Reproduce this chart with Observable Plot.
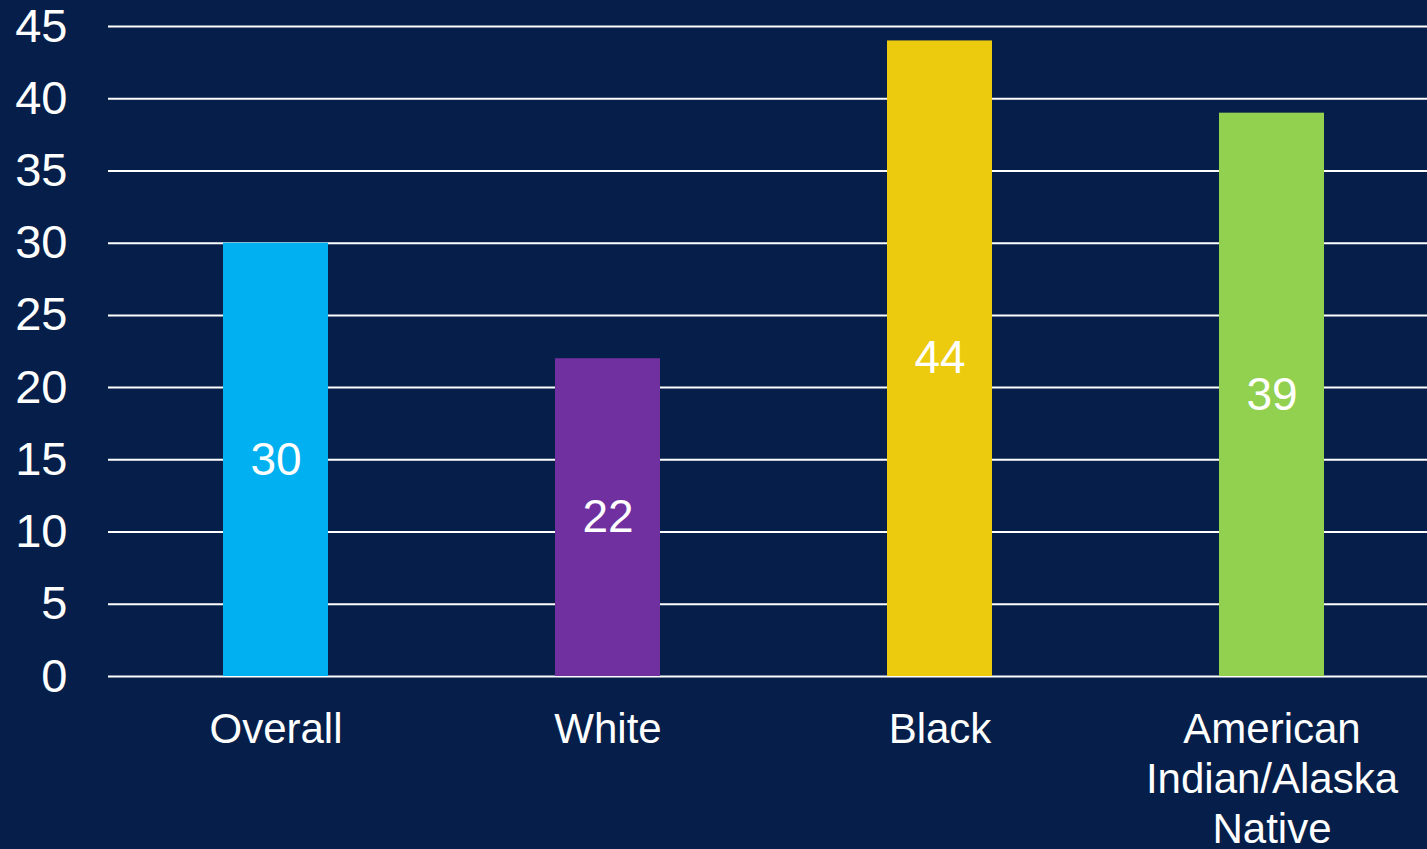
<!DOCTYPE html>
<html>
<head>
<meta charset="utf-8">
<script src="https://cdn.jsdelivr.net/npm/d3@7"></script>
<script src="https://cdn.jsdelivr.net/npm/@observablehq/plot@0.6"></script>
<style>
  html, body { margin: 0; padding: 0; background: #051f4a; overflow: hidden; }
  #chart svg { display: block; }
</style>
</head>
<body>
<div id="chart"></div>
<script>
const categories = ["Overall", "White", "Black", "American\nIndian/Alaska\nNative"];
const values = [30, 22, 44, 39];
const colors = ["#00b0f0", "#7030a0", "#eccb0e", "#92d050"];
const yTicks = [0, 5, 10, 15, 20, 25, 30, 35, 40, 45];

const data = categories.map((c, i) => ({category: c, value: values[i], color: colors[i]}));

const chart = Plot.plot({
  width: 1427,
  height: 849,
  marginLeft: 108,
  marginRight: -12,
  marginTop: 26,
  marginBottom: 173,
  style: {background: "#051f4a", color: "white", fontFamily: "'Liberation Sans', Arial, sans-serif"},
  x: {domain: categories, paddingInner: 0.685, paddingOuter: 0.3425, label: null},
  y: {domain: [0, 45], label: null},
  marks: [
    Plot.ruleY(yTicks, {stroke: "white", strokeWidth: 2}),
    Plot.barY(data, {x: "category", y: "value", fill: "color"}),
    Plot.text(data, {x: "category", y: d => d.value / 2, text: d => String(d.value), fill: "white", fontSize: 46}),
    Plot.axisY(yTicks, {tickSize: 0, tickPadding: 41, fontSize: 47, fill: "white", label: null}),
    Plot.axisX({tickSize: 0, tickPadding: 31, fontSize: 42, lineHeight: 1.19, fill: "white", label: null})
  ]
});
document.getElementById("chart").appendChild(chart);
</script>
</body>
</html>
